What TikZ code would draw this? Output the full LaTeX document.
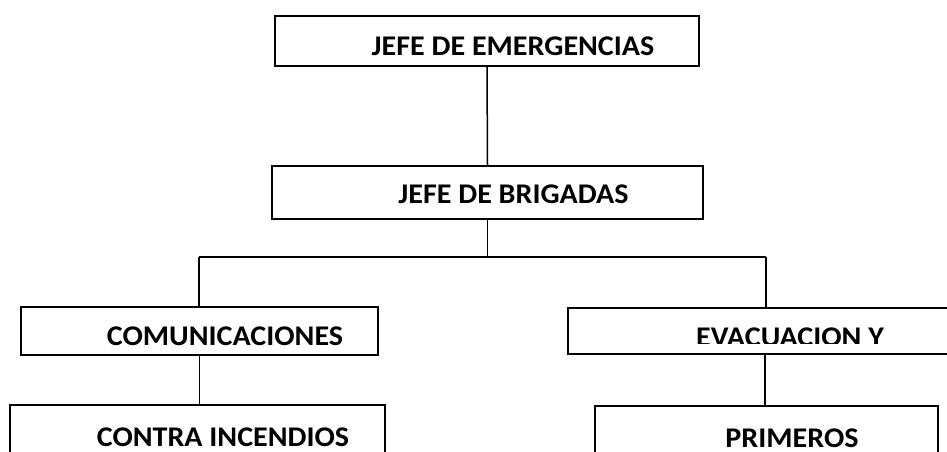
\documentclass[tikz,border=0pt]{standalone}
\usepackage{fontspec}
\setmainfont{Carlito}
\newcommand{\ancho}[1]{\scalebox{1.055}[1]{#1}}
\begin{document}
\begin{tikzpicture}[x=1pt,y=-1pt,
    caja/.style={draw,line width=1.6pt,inner sep=0pt},
    rotulo/.style={font=\bfseries\fontsize{28.5}{33}\selectfont,anchor=base,inner sep=0pt},
    enlace/.style={line width=1.5pt}]
    \useasboundingbox (0,0) rectangle (947,451);
    \clip (0,0) rectangle (947,451);
    % cajas
    \node[caja,minimum width=424pt,minimum height=50pt] (emerg) at (487,41) {};
    \node[caja,minimum width=431pt,minimum height=53pt] (brig) at (487.5,192.5) {};
    \node[caja,minimum width=357pt,minimum height=48pt] (comun) at (199.5,331) {};
    \node[caja,minimum width=394pt,minimum height=46pt] (evac) at (765,331) {};
    \node[caja,minimum width=375pt,minimum height=80pt] (contra) at (197.5,445) {};
    \node[caja,minimum width=343pt,minimum height=80pt] (prim) at (766.5,446) {};
    % textos
    \node[rotulo] (tEmerg) at (513,55) {\ancho{JEFE DE EMERGENCIAS}};
    \node[rotulo] (tBrig) at (513.5,203) {\ancho{JEFE DE BRIGADAS}};
    \node[rotulo] (tComun) at (225,345) {\ancho{COMUNICACIONES}};
    \begin{scope}
        \clip (570,310) rectangle (947,343);
        \node[rotulo] (tEvac) at (790,346) {\ancho{EVACUACION Y}};
    \end{scope}
    \node[rotulo] (tContra) at (223,446) {\ancho{CONTRA INCENDIOS}};
    \node[rotulo] (tPrim) at (792,447) {\ancho{PRIMEROS}};
    % conectores
    \coordinate (barL) at (199,257);
    \coordinate (barR) at (766,257);
    \draw[enlace] (emerg.south) -- (brig.north);
    \draw[enlace] (brig.south) -- (brig.south |- barL);
    \draw[line width=2.4pt] (barL) -- (barR);
    \draw[enlace] (barL) -- (barL |- comun.north);
    \draw[enlace] (barR) -- (barR |- evac.north);
    \draw[enlace] (comun.south) -- (comun.south |- contra.north);
    \draw[enlace] (evac.south) -- (evac.south |- prim.north);
\end{tikzpicture}
\end{document}
